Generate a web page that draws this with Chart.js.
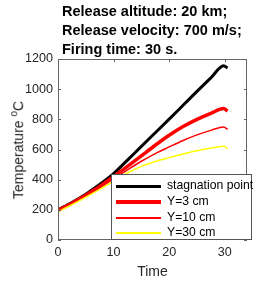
<!DOCTYPE html>
<html>
<head>
<meta charset="utf-8">
<script src="https://cdn.jsdelivr.net/npm/chart.js@4.4.1/dist/chart.umd.min.js"></script>
<style>
  body { margin: 0; background: #fff; }
  #wrap { position: relative; width: 273px; height: 281px; font-family: "Liberation Sans", Arial, sans-serif; }
  #c { position: absolute; left: 0; top: 0; }
  .title { position: absolute; left: 62px; top: 2px; font-weight: bold; font-size: 14.5px; line-height: 19px; color: #000; }
  .ylab { position: absolute; left: 17px; top: 150px; transform: translate(-50%, -50%) rotate(-90deg); font-size: 14px; color: #262626; white-space: nowrap; }
  .ylab sup { font-size: 10px; }
  .legend { position: absolute; left: 111px; top: 174px; width: 141px; height: 66px; background: #fff; border: 1px solid #555; box-sizing: border-box; }
  .row { position: absolute; left: 4px; height: 15px; font-size: 12.2px; color: #000; }
  .row .ln { position: absolute; left: 0; width: 45px; }
  .row span { position: absolute; left: 51px; top: 0; white-space: nowrap; line-height: 15px; }
</style>
</head>
<body>
<div id="wrap">
  <canvas id="c" width="273" height="281"></canvas>
  <div class="title">Release altitude: 20 km;<br>Release velocity: 700 m/s;<br>Firing time: 30 s.</div>
  <div class="ylab">Temperature <sup>o</sup>C</div>
  <div class="legend" id="legend"></div>
</div>
<script>
// time (s) and temperatures
const timeS = [0, 2.5, 5, 7.5, 10, 12.5, 15, 17.5, 20, 22.5, 25, 27.5, 29.8, 30.5]
const stagnation = [200, 249, 304, 368, 440, 530, 621, 711, 801, 893, 985, 1075, 1155, 1140]
const y3cm = [196, 244, 297, 355, 420, 488, 558, 628, 694, 752, 800, 840, 872, 855]
const y10cm = [192, 240, 292, 347, 405, 465, 522, 573, 617, 660, 697, 727, 750, 733]
const y30cm = [187, 234, 284, 336, 390, 444, 488, 520, 546, 570, 592, 610, 622, 605]
const seriesNames = ['stagnation point', 'Y=3 cm', 'Y=10 cm', 'Y=30 cm']
const seriesColors = ['#000000', '#ff0000', '#ff0000', '#ffff00']
const seriesWidths = [3, 3.5, 1.5, 1.5]
const xTicks = [0, 10, 20, 30]
const yTicks = [0, 200, 400, 600, 800, 1000, 1200]

const allSeries = [stagnation, y3cm, y10cm, y30cm]

const toPoints = (vals) => vals.map((v, i) => ({x: timeS[i], y: v}))

// MATLAB style box with inward ticks
const boxTicks = {
    id: 'boxTicks',
    afterDraw(chart) {
        const {ctx, chartArea: a, scales} = chart
        ctx.save()
        ctx.strokeStyle = '#666'
        ctx.lineWidth = 1
        ctx.strokeRect(a.left + 0.5, a.top + 0.5, a.right - a.left - 1, a.bottom - a.top - 1)
        ctx.beginPath()
        xTicks.forEach(t => {
            const px = Math.round(scales.x.getPixelForValue(t)) + 0.5
            ctx.moveTo(px, a.bottom); ctx.lineTo(px, a.bottom - 3)
            ctx.moveTo(px, a.top); ctx.lineTo(px, a.top + 3)
        })
        yTicks.forEach(t => {
            const py = Math.round(scales.y.getPixelForValue(t)) + 0.5
            ctx.moveTo(a.left, py); ctx.lineTo(a.left + 3, py)
            ctx.moveTo(a.right, py); ctx.lineTo(a.right - 3, py)
        })
        ctx.stroke()
        ctx.restore()
    }
}

new Chart(document.getElementById('c'), {
    type: 'line',
    data: {
        datasets: allSeries.map((vals, i) => ({
            label: seriesNames[i],
            data: toPoints(vals),
            borderColor: seriesColors[i],
            borderWidth: seriesWidths[i],
            pointRadius: 0,
            fill: false,
            cubicInterpolationMode: 'monotone'
        })).reverse()
    },
    options: {
        responsive: false,
        animation: false,
        layout: { padding: { left: 0, top: 59, right: 26, bottom: 0 } },
        plugins: { legend: { display: false }, tooltip: { enabled: false } },
        scales: {
            x: {
                type: 'linear',
                min: 0,
                max: 34,
                afterBuildTicks: s => { s.ticks = xTicks.map(v => ({value: v})) },
                afterFit: s => { s.height = 41 },
                grid: { display: false, drawTicks: false },
                border: { display: false },
                ticks: { padding: 5, color: '#262626', font: { family: 'Liberation Sans', size: 12.6 }, callback: v => String(v) },
                title: { display: true, text: 'Time', color: '#262626', padding: { top: 0, bottom: 0 }, font: { family: 'Liberation Sans', size: 14 } }
            },
            y: {
                min: 0,
                max: 1200,
                afterBuildTicks: s => { s.ticks = yTicks.map(v => ({value: v})) },
                afterFit: s => { s.width = 58 },
                grid: { display: false, drawTicks: false },
                border: { display: false },
                ticks: { padding: 5, color: '#262626', font: { family: 'Liberation Sans', size: 12.6 }, callback: v => String(v) }
            }
        }
    },
    plugins: [boxTicks]
})

// legend box overlaid on the axes, like the original
const legend = document.getElementById('legend')
const rowTops = [3, 19, 35, 50]
seriesNames.forEach((name, i) => {
    const row = document.createElement('div')
    row.className = 'row'
    row.style.top = rowTops[i] + 'px'
    const ln = document.createElement('div')
    ln.className = 'ln'
    ln.style.height = seriesWidths[i] + 'px'
    ln.style.top = (8 - seriesWidths[i] / 2) + 'px'
    ln.style.background = seriesColors[i]
    const sp = document.createElement('span')
    sp.textContent = name
    row.appendChild(ln)
    row.appendChild(sp)
    legend.appendChild(row)
})
</script>
</body>
</html>
